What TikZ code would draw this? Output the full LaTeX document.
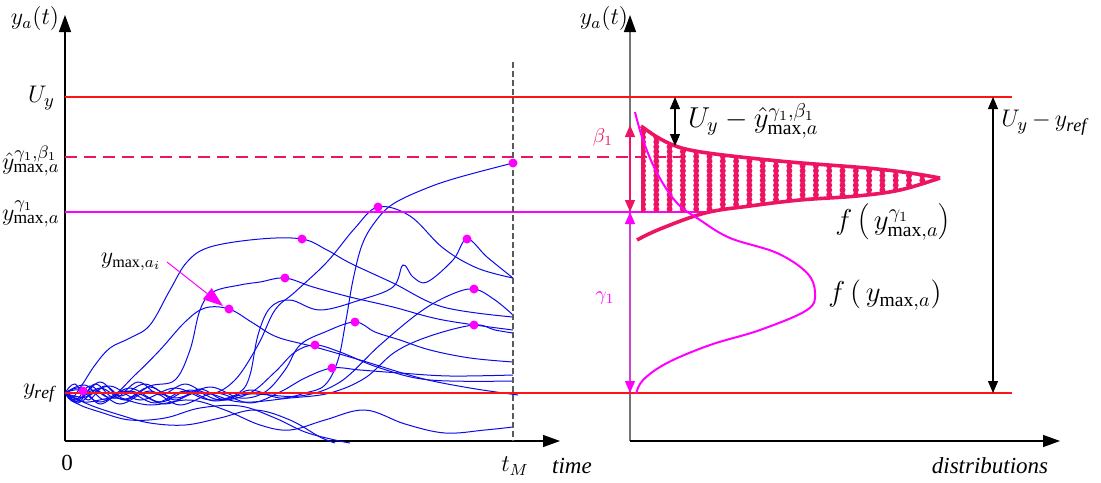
\documentclass[tikz,border=0pt]{standalone}
\usepackage{fontspec}
\setmainfont{Liberation Serif}
\usetikzlibrary{arrows.meta}

\definecolor{lvlred}{RGB}{255,20,20}
\definecolor{crim}{RGB}{238,20,100}
\definecolor{mag}{RGB}{255,0,255}
\definecolor{gamln}{RGB}{200,70,200}
\definecolor{traj}{RGB}{10,10,235}

\begin{document}
\begin{tikzpicture}[
  x=0.5pt, y=-0.5pt,
  font=\fontsize{11.5}{13}\selectfont,
  ax/.style={-{Triangle[length=8.5pt,width=6pt,color=black]}, line width=0.6pt},
  lvl/.style={line width=1pt},
  tr/.style={traj, line width=0.5pt},
  mx/.style={fill=mag, draw=none},
  dbl/.style={{Triangle[length=6pt,width=5pt]}-{Triangle[length=6pt,width=5pt]}, line width=0.6pt},
  big/.style={font=\fontsize{14}{16}\selectfont},
  sml/.style={font=\fontsize{10}{12}\selectfont},
  dotcol/.style={crim, line width=3pt, line cap=round, dash pattern=on 0pt off 2.4pt},
]
\useasboundingbox (0,0) rectangle (1101,482);

% axes
\coordinate (o1) at (65,441);
\coordinate (o2) at (630,441);
\draw[ax] (o1) -- (65,15) coordinate (ytop1);
\draw[ax] (o1) -- (560,441) coordinate (xend1);
\draw[ax, black!55] (o2) -- (630,15) coordinate (ytop2);
\draw[ax] (o2) -- (1060,441) coordinate (xend2);

% trajectories
\draw[tr] plot[smooth,tension=0.6] coordinates {(65,393) (75,384) (88,400) (105,386) (125,399) (150,387) (175,400) (200,389) (225,400) (250,390) (280,398) (305,393) (325,385) (338,360) (346,320) (353,280) (362,245) (375,222) (393,204) (427,188) (460,177) (513,163)};
\draw[tr] plot[smooth,tension=0.6] coordinates {(65,393) (78,403) (95,384) (115,398) (138,382) (160,395) (185,384) (210,394) (235,380) (258,345) (275,310) (295,292) (327,262) (355,228) (378,207) (410,216) (443,248) (477,268) (513,278)};
\draw[tr] plot[smooth,tension=0.6] coordinates {(65,393) (72,398) (82,385) (95,365) (110,348) (130,338) (150,325) (170,290) (187,262) (210,247) (260,239) (302,239) (327,250) (350,263) (393,283) (443,307) (513,317)};
\draw[tr] plot[smooth,tension=0.6] coordinates {(65,393) (80,402) (100,388) (125,400) (150,386) (175,380) (190,350) (200,310) (213,292) (240,285) (260,282) (285,278) (313,287) (350,297) (393,307) (443,320) (513,330)};
\draw[tr] plot[smooth,tension=0.6] coordinates {(65,393) (76,400) (90,386) (110,397) (135,375) (160,350) (185,322) (205,308) (229,309) (253,323) (277,337) (315,347) (360,360) (420,378) (470,388) (518,395)};
\draw[tr] plot[smooth,tension=0.6] coordinates {(65,393) (85,385) (105,400) (130,388) (160,402) (190,390) (220,400) (250,393) (275,372) (295,352) (315,345) (340,352) (380,368) (430,380) (513,381)};
\draw[tr] plot[smooth,tension=0.6] coordinates {(65,393) (80,398) (100,382) (120,396) (145,384) (175,398) (210,387) (240,398) (265,392) (285,370) (300,345) (325,332) (355,322) (375,332) (400,340) (430,350) (470,358) (513,362)};
\draw[tr] plot[smooth,tension=0.6] coordinates {(65,393) (75,402) (95,390) (120,404) (150,391) (180,405) (215,393) (250,403) (280,392) (305,378) (332,368) (360,370) (400,373) (450,376) (513,375)};
\draw[tr] plot[smooth,tension=0.6] coordinates {(65,393) (82,388) (100,404) (125,391) (155,403) (185,391) (215,401) (240,392) (250,375) (258,335) (270,308) (290,300) (320,310) (360,300) (393,287) (403,265) (413,277) (427,282) (453,260) (467,239) (487,257) (513,278)};
\draw[tr] plot[smooth,tension=0.6] coordinates {(65,393) (85,397) (110,386) (140,400) (175,388) (210,400) (250,394) (300,396) (340,382) (380,345) (420,312) (450,295) (474,289) (495,300) (513,315)};
\draw[tr] plot[smooth,tension=0.6] coordinates {(65,393) (80,390) (100,402) (130,391) (165,404) (200,392) (240,402) (290,398) (330,393) (365,378) (395,352) (430,336) (474,325) (495,330) (513,333)};
\draw[tr] plot[smooth,tension=0.6] coordinates {(65,393) (78,404) (100,412) (130,420) (165,418) (200,408) (240,406) (275,418) (305,432) (335,440) (350,443)};
\draw[tr] plot[smooth,tension=0.6] coordinates {(65,393) (85,402) (115,398) (150,405) (190,400) (225,410) (260,425) (290,430) (325,420) (365,410) (405,424) (445,433) (485,430) (513,427)};
\draw[tr] plot[smooth,tension=0.6] coordinates {(65,393) (90,405) (120,415) (150,423) (185,425) (220,418) (255,410) (290,420) (320,437) (335,443)};

% levels
\draw[lvl, lvlred] (65,97) -- (1012,97);
\draw[lvl, lvlred] (65,393) -- (1012,393);
\draw[lvl, crim, dash pattern=on 6pt off 3.5pt] (65,157) -- (690,157);
\draw[lvl, mag] (65,212) -- (705,212);
\draw[black!65, line width=0.6pt, dash pattern=on 3pt off 1.5pt] (513,62) -- (513,441);

% maxima
\foreach \p in {(513,163),(378,207),(302,239),(467,239),(285,278),(229,309),(474,289),(355,322),(474,325),(315,345),(332,368),(83,391)}
  \fill[mx] \p circle (4.5);

% pointer
\node (ymaxi) at (131,262) {$y_{\max,a_i}$};
\coordinate (tgt) at (223,306);
\draw[mag, line width=0.5pt, -{Triangle[length=10pt,width=7pt]}] (167,262) -- (tgt);

% distributions
\begin{scope}
  \clip plot[smooth,tension=0.6] coordinates {(641,126) (657,137) (673,145) (690,150) (723,155) (790,162) (867,168) (910,173) (940,178)}
     -- plot[smooth,tension=0.6] coordinates {(940,178) (900,190) (857,196) (800,200) (750,206) (705,212)}
     -- (641,212) -- cycle;
  \foreach \c in {643,656.3,...,940}
    \draw[dotcol] (\c,118) -- (\c,216);
\end{scope}
\draw[crim, line width=1.8pt] plot[smooth,tension=0.6] coordinates {(641,126) (657,137) (673,145) (690,150) (723,155) (790,162) (867,168) (910,173) (940,178)};
\draw[crim, line width=1.8pt] plot[smooth,tension=0.6] coordinates {(637,240) (660,229) (705,213) (750,206) (800,200) (857,196) (900,190) (940,178)};
\draw[mag, line width=1pt] plot[smooth,tension=0.6] coordinates {(635,112) (643,140) (657,173) (677,203) (700,220) (730,238) (777,253) (807,273) (815,293) (807,310) (760,330) (710,345) (667,363) (643,380) (636,394)};

% widths
\coordinate (b1) at (630,125);
\coordinate (g1) at (630,212);
\coordinate (r1) at (630,393);
\draw[dbl, crim] (g1) -- (b1);
\draw[dbl, gamln, {Triangle[length=6pt,width=5pt,color=mag]}-{Triangle[length=6pt,width=5pt,color=mag]}] (g1) -- (r1);
\node[sml, text=crim] (beta) at (603,137) {$\beta_1$};
\node[sml, text=mag] (gamma) at (605,298) {$\gamma_1$};

\coordinate (u1) at (675,97);
\coordinate (h1) at (675,146);
\draw[dbl] (u1) -- (h1);
\node[big, anchor=west] (gap1) at (681,121) {$U_{y}-\hat{y}^{\gamma_1,\beta_1}_{\max,a}$};

\coordinate (u2) at (993,97);
\coordinate (r2) at (993,393);
\draw[dbl] (u2) -- (r2);
\node[font=\fontsize{13}{15}\selectfont, anchor=west, inner sep=1pt] (gap2) at (999,123) {$U_{y}\,{-}\,y_{\mathit{ref}}$};

\node[big] (fg) at (893,222) {$f\left(\,y^{\gamma_1}_{\max,a}\right)$};
\node[big] (fy) at (885,295) {$f\left(\,y_{\max,a}\right)$};

% axis labels
\node (ya1) at (35,19) {$y_a(t)$};
\node (ya2) at (604,19) {$y_a(t)$};
\node[anchor=east, font=\fontsize{12.5}{14}\selectfont] (uy) at (62,98) {$U_y$};
\node[anchor=east, inner sep=1pt, font=\fontsize{12.5}{14}\selectfont] (yhat) at (62,161) {$\hat{y}^{\gamma_1,\beta_1}_{\max,a}$};
\node[anchor=east, inner sep=1pt, font=\fontsize{12.5}{14}\selectfont] (yg) at (62,214) {$y^{\gamma_1}_{\max,a}$};
\node[anchor=east, font=\fontsize{12.5}{14}\selectfont] (yref) at (62,393) {$y_{\mathit{ref}}$};
\node (zero) at (67,463) {0};
\node (tm) at (515,466) {$t_M$};
\node (time) at (572,466) {\textit{time}};
\node (dist) at (990,466) {\textit{distributions}};
\end{tikzpicture}
\end{document}
